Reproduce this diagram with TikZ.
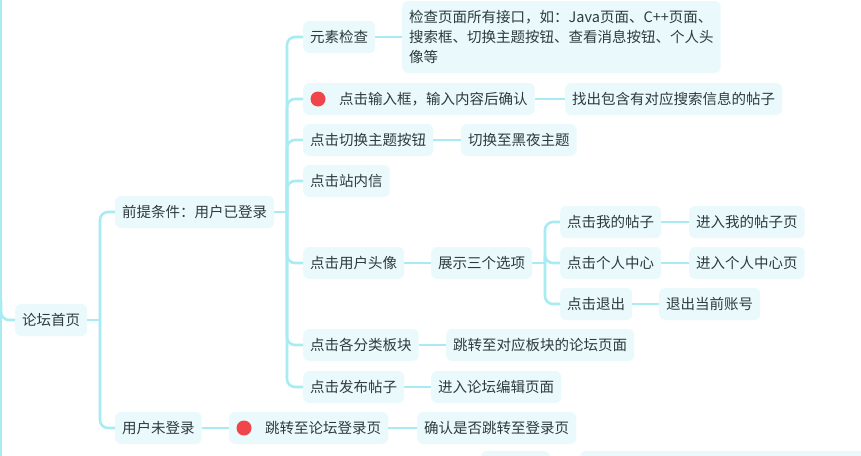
\documentclass[tikz,border=0pt]{standalone}
\usepackage{fontspec}
\newfontfamily\cjk{Noto Sans CJK SC}
\definecolor{linkcol}{HTML}{A8EBF2}
\definecolor{boxfill}{HTML}{EAFAFC}
\definecolor{textcol}{HTML}{2D3B3E}
\definecolor{dotred}{HTML}{F0454A}
\tikzset{
  box/.style={anchor=west, rounded corners=6pt, fill=boxfill, text=textcol,
    font=\cjk\fontsize{14.5}{20}\selectfont, inner xsep=7pt, inner ysep=0pt,
    minimum height=32pt},
  link/.style={draw=linkcol, line width=2.6pt},
  branch/.style={link, rounded corners=8pt}
}
\begin{document}
\begin{tikzpicture}[x=1pt, y=-1pt]
\useasboundingbox (0,0) rectangle (861,455);
\clip (0,0) rectangle (861,455);
\fill[white] (0,0) rectangle (861,455);
% root and first level
\node at (15,320) [box] (root) {论坛首页};
\node at (115,212) [box] (pre) {前提条件：用户已登录};
\node at (115,428) [box] (nolog) {用户未登录};
% logged in
\node at (303,37) [box] (elem) {元素检查};
\node at (402,37) [box, minimum height=72pt, align=left] (detail)
  {检查页面所有接口，如：Java页面、C++页面、\\搜索框、切换主题按钮、查看消息按钮、个人头\\像等};
\node at (303,99) [box] (search) {\hspace{29pt}点击输入框，输入内容后确认};
\node at (565,99) [box] (find) {找出包含有对应搜索信息的帖子};
\node at (303,140) [box] (theme) {点击切换主题按钮};
\node at (461,140) [box] (dark) {切换至黑夜主题};
\node at (303,181) [box] (msg) {点击站内信};
\node at (303,263) [box] (avatar) {点击用户头像};
\node at (431,263) [box] (three) {展示三个选项};
\node at (560,222) [box] (mine) {点击我的帖子};
\node at (689,222) [box] (minepage) {进入我的帖子页};
\node at (560,263) [box] (center) {点击个人中心};
\node at (689,263) [box] (centerpage) {进入个人中心页};
\node at (560,304) [box] (logout) {点击退出};
\node at (659,304) [box] (account) {退出当前账号};
\node at (303,345) [box] (cat) {点击各分类板块};
\node at (446,345) [box] (catpage) {跳转至对应板块的论坛页面};
\node at (303,387) [box] (post) {点击发布帖子};
\node at (431,387) [box] (edit) {进入论坛编辑页面};
% not logged in
\node at (229,428) [box] (jump) {\hspace{29pt}跳转至论坛登录页};
\node at (417,428) [box] (confirm) {确认是否跳转至登录页};
\fill[dotred] ([xshift=15pt]search.west) circle (7.5pt);
\fill[dotred] ([xshift=15pt]jump.west) circle (7.5pt);
% nodes cut off by the lower edge
\fill[boxfill, rounded corners=6pt] (481,451) rectangle (550,490);
\fill[boxfill, rounded corners=6pt] (580,451) rectangle (880,490);
% connectors
\coordinate (t0) at (1,300);
\coordinate (t1) at (100,320);
\coordinate (t2) at (287,212);
\coordinate (t3) at (545,263);
\draw[link] (1,0) -- (1,460);
\draw[branch] (t0) |- (root.west);
\draw[link] (root.east) -- (t1);
\foreach \n in {pre, nolog}
  \draw[branch] (t1) |- (\n.west);
\draw[link] (pre.east) -- (t2);
\foreach \n in {elem, search, theme, msg, avatar, cat, post}
  \draw[branch] (t2) |- (\n.west);
\draw[link] (three.east) -- (t3);
\foreach \n in {mine, center, logout}
  \draw[branch] (t3) |- (\n.west);
\draw[link] (elem) -- (detail);
\draw[link] (search) -- (find);
\draw[link] (theme) -- (dark);
\draw[link] (avatar) -- (three);
\draw[link] (mine) -- (minepage);
\draw[link] (center) -- (centerpage);
\draw[link] (logout) -- (account);
\draw[link] (cat) -- (catpage);
\draw[link] (post) -- (edit);
\draw[link] (nolog) -- (jump);
\draw[link] (jump) -- (confirm);
\end{tikzpicture}
\end{document}
